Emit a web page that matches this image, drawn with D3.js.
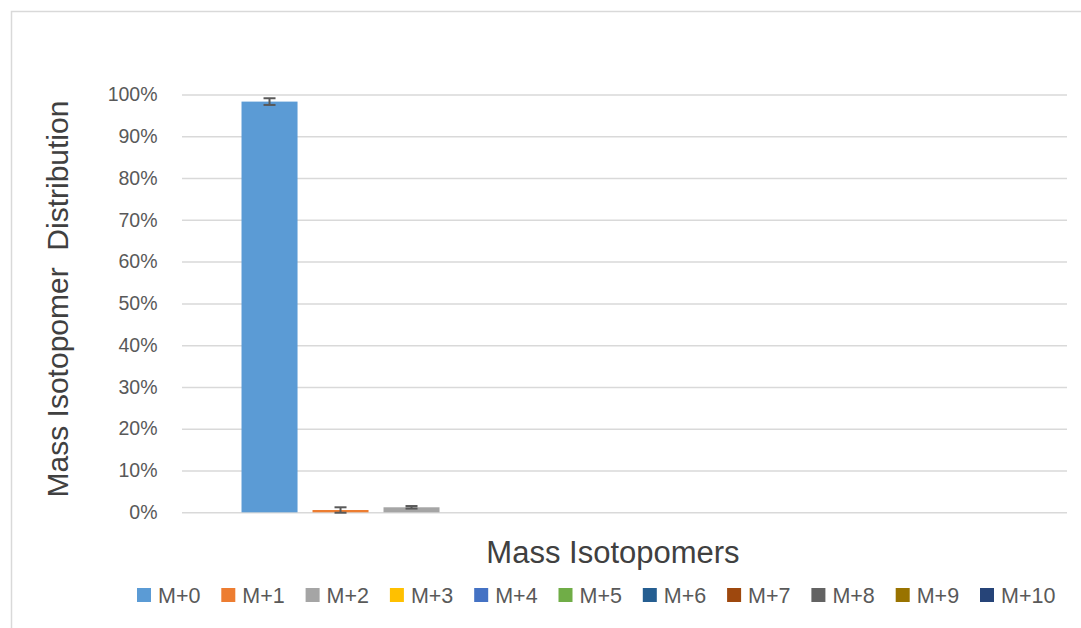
<!DOCTYPE html>
<html>
<head>
<meta charset="utf-8">
<script src="https://cdn.jsdelivr.net/npm/d3@7"></script>
<style>
  html, body { margin: 0; padding: 0; background: #fff; }
  svg { display: block; font-family: "Liberation Sans", Arial, sans-serif; }
</style>
</head>
<body>
<div id="chart"></div>
<script>
// data
const categories = [""];
const series = ["M+0", "M+1", "M+2", "M+3", "M+4", "M+5", "M+6", "M+7", "M+8", "M+9", "M+10"];
const values = [0.983, 0.0055, 0.012, 0, 0, 0, 0, 0, 0, 0, 0];
const errors = [0.008, 0.0065, 0.003, 0, 0, 0, 0, 0, 0, 0, 0];
const yTicks = [0, 0.1, 0.2, 0.3, 0.4, 0.5, 0.6, 0.7, 0.8, 0.9, 1.0];
const colors = ["#5B9BD5", "#ED7D31", "#A5A5A5", "#FFC000", "#4472C4", "#70AD47",
                "#255E91", "#9E480E", "#636363", "#997300", "#264478"];

const W = 1081, H = 628;
const margin = { top: 94.5, right: 14, bottom: 115.7, left: 182 };
const innerW = W - margin.left - margin.right;
const innerH = H - margin.top - margin.bottom;

const svg = d3.select("#chart").append("svg").attr("width", W).attr("height", H);

// chart area border (runs off the right/bottom edge in the original)
svg.append("rect")
  .attr("x", 11.5).attr("y", 11.5).attr("width", W).attr("height", H)
  .attr("fill", "none").attr("stroke", "#d9d9d9").attr("stroke-width", 1.5);

const g = svg.append("g").attr("transform", `translate(${margin.left},${margin.top})`);

const x0 = d3.scaleBand().domain(categories).range([0, innerW]).paddingInner(0).paddingOuter(0.0777);
const x1 = d3.scaleBand().domain(series).range([0, x0.bandwidth()]).paddingInner(0.211).paddingOuter(0);
const y = d3.scaleLinear().domain([0, 1]).range([innerH, 0]);
const color = d3.scaleOrdinal().domain(series).range(colors);

// gridlines + y labels
const gy = g.append("g")
  .call(d3.axisLeft(y).tickValues(yTicks).tickFormat(d3.format(".0%")).tickSize(-innerW).tickPadding(24.5));
gy.select(".domain").remove();
gy.selectAll("line").attr("stroke", "#d9d9d9").attr("stroke-width", 1.5);
gy.selectAll("text").attr("fill", "#595959").style("font-size", "19.5px")
  .style("font-family", "'Liberation Sans', Arial, sans-serif");

// bars
const data = series.map((s, i) => ({ key: s, value: values[i], err: errors[i] }));
const grp = g.append("g").attr("transform", `translate(${x0(categories[0])},0)`);
grp.selectAll("rect.bar").data(data).join("rect")
  .attr("class", "bar")
  .attr("x", d => x1(d.key))
  .attr("y", d => y(d.value))
  .attr("width", x1.bandwidth())
  .attr("height", d => innerH - y(d.value))
  .attr("fill", d => color(d.key));

// error bars
const eb = grp.selectAll("g.err").data(data.filter(d => d.err > 0)).join("g").attr("class", "err")
  .attr("stroke", "#595959").attr("stroke-width", 2);
const cap = 6;
eb.append("line")
  .attr("x1", d => x1(d.key) + x1.bandwidth() / 2).attr("x2", d => x1(d.key) + x1.bandwidth() / 2)
  .attr("y1", d => y(d.value + d.err)).attr("y2", d => y(d.value - d.err));
eb.append("line")
  .attr("x1", d => x1(d.key) + x1.bandwidth() / 2 - cap).attr("x2", d => x1(d.key) + x1.bandwidth() / 2 + cap)
  .attr("y1", d => y(d.value + d.err)).attr("y2", d => y(d.value + d.err));
eb.append("line")
  .attr("x1", d => x1(d.key) + x1.bandwidth() / 2 - cap).attr("x2", d => x1(d.key) + x1.bandwidth() / 2 + cap)
  .attr("y1", d => y(d.value - d.err)).attr("y2", d => y(d.value - d.err));

// axis titles
svg.append("text")
  .attr("x", 613).attr("y", 563)
  .attr("text-anchor", "middle").attr("fill", "#404040")
  .style("font-size", "31px").text("Mass Isotopomers");

svg.append("text")
  .attr("transform", "translate(68,299) rotate(-90)")
  .attr("text-anchor", "middle").attr("fill", "#404040")
  .style("font-size", "30px").style("white-space", "pre").text("Mass Isotopomer  Distribution");

// legend
const legendX = d3.scalePoint().domain(series).range([137, 137 + 84.3 * (series.length - 1)]);
const lg = svg.append("g").selectAll("g").data(series).join("g")
  .attr("transform", d => `translate(${legendX(d)},588)`);
lg.append("rect").attr("width", 14).attr("height", 14).attr("fill", d => color(d));
lg.append("text").attr("x", 21).attr("y", 7).attr("dy", "0.36em")
  .attr("fill", "#595959").style("font-size", "21.5px").text(d => d);
</script>
</body>
</html>
